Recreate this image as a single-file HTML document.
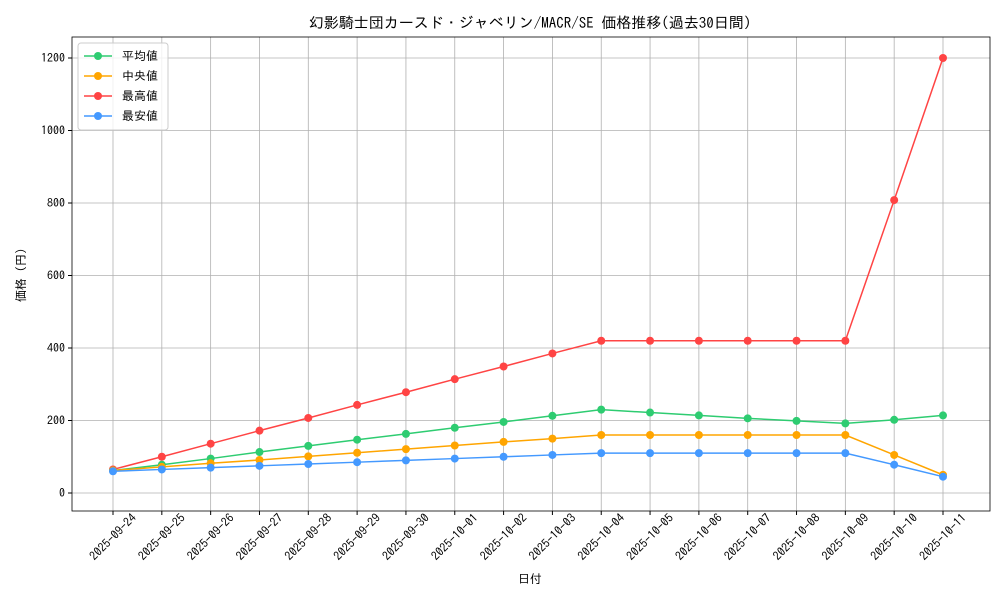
<!DOCTYPE html>
<html><head><meta charset="utf-8"><style>
body{margin:0;background:#fff}
text{font-family:"IPAGothic","Liberation Mono","Noto Sans CJK JP",monospace;fill:#000}
</style></head><body>
<svg width="1000" height="600" xmlns="http://www.w3.org/2000/svg">
<rect width="1000" height="600" fill="#fff"/>
<text x="530" y="28" font-size="15" text-anchor="middle">幻影騎士団カースド・ジャベリン/MACR/SE 価格推移(過去30日間)</text>
<g id="grid" stroke="#b0b0b0" stroke-width="0.8"></g>
<rect x="72" y="37" width="918" height="474" fill="none" stroke="#000" stroke-width="0.8"/>
<g id="ticks" font-size="12"></g>
<text x="530" y="583" font-size="12" text-anchor="middle">日付</text>
<text x="25" y="275" font-size="12" text-anchor="middle" transform="rotate(-90 25 275)">価格 (円)</text>
<g id="series"></g>
<g>
<rect x="78" y="43" width="90" height="87" rx="3" fill="#fff" fill-opacity="0.8" stroke="#ccc"/>
<line x1="84" y1="56" x2="112" y2="56" stroke="#2ecc71" stroke-width="1.5"/><circle cx="98" cy="56" r="4" fill="#2ecc71"/><text x="122" y="60" font-size="12">平均値</text>
<line x1="84" y1="76" x2="112" y2="76" stroke="#ffa500" stroke-width="1.5"/><circle cx="98" cy="76" r="4" fill="#ffa500"/><text x="122" y="80" font-size="12">中央値</text>
<line x1="84" y1="96" x2="112" y2="96" stroke="#ff4444" stroke-width="1.5"/><circle cx="98" cy="96" r="4" fill="#ff4444"/><text x="122" y="100" font-size="12">最高値</text>
<line x1="84" y1="116" x2="112" y2="116" stroke="#4499ff" stroke-width="1.5"/><circle cx="98" cy="116" r="4" fill="#4499ff"/><text x="122" y="120" font-size="12">最安値</text>
</g>
</svg>
<script>
const NS="http://www.w3.org/2000/svg";
function el(p,t,a,txt){const e=document.createElementNS(NS,t);for(const k in a)e.setAttribute(k,a[k]);if(txt!==undefined)e.textContent=txt;document.getElementById(p).appendChild(e);return e;}
const dates=["2025-09-24","2025-09-25","2025-09-26","2025-09-27","2025-09-28","2025-09-29","2025-09-30","2025-10-01","2025-10-02","2025-10-03","2025-10-04","2025-10-05","2025-10-06","2025-10-07","2025-10-08","2025-10-09","2025-10-10","2025-10-11"];
const X=i=>113+i*(943-113)/17, Y=v=>493-v*(493-58)/1200;
dates.forEach((d,i)=>{const x=X(i);el("grid","line",{x1:x,y1:37,x2:x,y2:511});
el("ticks","line",{x1:x,y1:511,x2:x,y2:515,stroke:"#000"});
el("ticks","text",{x:x,y:541,"text-anchor":"middle",transform:`rotate(-45 ${x} 537)`},d);});
for(let v=0;v<=1200;v+=200){const y=Y(v);el("grid","line",{x1:72,y1:y,x2:990,y2:y});
el("ticks","line",{x1:68,y1:y,x2:72,y2:y,stroke:"#000"});
el("ticks","text",{x:65,y:y+4,"text-anchor":"end"},v);}
const S=[
["#ff4444",[65,100,136,172,207,243,278,314,349,385,420,420,420,420,420,420,808,1200]],
["#2ecc71",[62,78,95,113,130,147,163,180,196,213,230,222,214,206,199,192,202,214]],
["#ffa500",[62,72,82,91,101,111,121,131,141,150,160,160,160,160,160,160,105,50]],
["#4499ff",[60,65,70,75,80,85,90,95,100,105,110,110,110,110,110,110,78,45]]];
S.forEach(([c,d])=>{el("series","polyline",{points:d.map((v,i)=>X(i)+","+Y(v)).join(" "),fill:"none",stroke:c,"stroke-width":1.5});
d.forEach((v,i)=>el("series","circle",{cx:X(i),cy:Y(v),r:4,fill:c}));});
</script>
</body></html>
